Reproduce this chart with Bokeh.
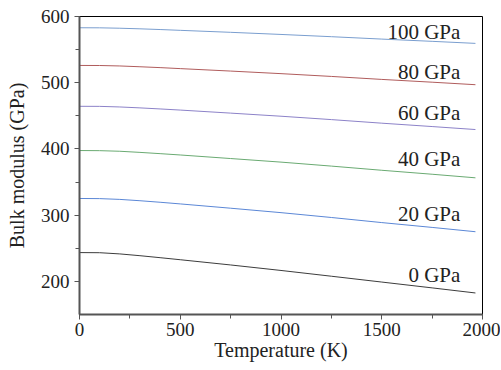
from bokeh.plotting import figure
from bokeh.models import ColumnDataSource, FixedTicker, Range1d
from bokeh.core.properties import value
from bokeh.embed import file_html
from bokeh.resources import INLINE

temperature = [0, 100, 200, 300, 400, 500, 750, 1000, 1250, 1500, 1750, 1965]
k_0gpa = [243.5, 243.3, 241.5, 238.8, 235.8, 232.7, 224.8, 216.5, 207.8, 199.0, 190.2, 182.5]
k_20gpa = [325.2, 325.0, 323.8, 321.8, 319.5, 317.0, 310.5, 303.8, 296.5, 288.8, 281.5, 275.0]
k_40gpa = [397.6, 397.4, 396.5, 394.8, 392.9, 390.9, 385.5, 380.1, 374.1, 367.8, 361.8, 356.4]
k_60gpa = [464.4, 464.3, 463.4, 462.0, 460.4, 458.7, 454.1, 449.4, 444.3, 438.9, 433.8, 429.3]
k_80gpa = [526.1, 526.0, 525.3, 524.1, 522.8, 521.3, 517.6, 513.7, 509.5, 505.0, 500.8, 497.0]
k_100gpa = [583.0, 582.9, 582.3, 581.4, 580.3, 579.1, 576.1, 572.9, 569.5, 565.9, 562.5, 559.4]

series_labels = ["0 GPa", "20 GPa", "40 GPa", "60 GPa", "80 GPa", "100 GPa"]
series_values = [k_0gpa, k_20gpa, k_40gpa, k_60gpa, k_80gpa, k_100gpa]
series_colors = ["#3c3c3c", "#5b87d6", "#6aaa72", "#8c82c8", "#b05c5c", "#7a9ecf"]

x_ticks = [0, 500, 1000, 1500, 2000]
x_minor = [250, 750, 1250, 1750]
y_ticks = [200, 300, 400, 500, 600]
y_minor = [250, 350, 450, 550]

SERIF = "Liberation Serif"
# pixel lift of each series label above its line (style, not data)
label_lift = [-16, -16, -17, -15, -12, -10]

p = figure(frame_width=403, frame_height=298, output_backend="svg", toolbar_location=None,
           x_range=Range1d(0, 2000), y_range=Range1d(150, 600),
           min_border_left=79, min_border_right=18, min_border_top=16, min_border_bottom=45)

p.xgrid.visible = False
p.ygrid.visible = False
p.outline_line_color = "black"
p.outline_line_width = 1
p.background_fill_color = "white"
p.border_fill_color = "white"

for vals, col in zip(series_values, series_colors):
    p.line(temperature, vals, line_color=col, line_width=1)

lab_src = ColumnDataSource(dict(
    x=[1890] * len(series_labels),
    y=[v[-2] + (v[-1] - v[-2]) * 0.56 for v in series_values],
    t=series_labels,
    dy=label_lift,
))
p.text(x="x", y="y", text="t", source=lab_src, text_align="right", text_baseline="middle",
       y_offset="dy", text_font=value(SERIF), text_font_size="21px", text_color="#222222")

p.xaxis.ticker = FixedTicker(ticks=x_ticks, minor_ticks=x_minor)
p.yaxis.ticker = FixedTicker(ticks=y_ticks, minor_ticks=y_minor)
p.xaxis.axis_label = "Temperature (K)"
p.yaxis.axis_label = "Bulk modulus (GPa)"

for ax in (p.xaxis[0], p.yaxis[0]):
    ax.axis_line_color = "#555555"
    ax.axis_line_width = 2
    ax.major_tick_line_color = "#555555"
    ax.minor_tick_line_color = "#555555"
    ax.major_tick_in = 0
    ax.major_tick_out = 5
    ax.minor_tick_in = 0
    ax.minor_tick_out = 4
    ax.major_label_text_font = SERIF
    ax.major_label_text_font_size = "19px"
    ax.major_label_text_color = "#222222"
    ax.axis_label_text_font = SERIF
    ax.axis_label_text_font_size = "20px"
    ax.axis_label_text_font_style = "normal"
    ax.axis_label_text_color = "#222222"

p.xaxis.major_label_standoff = 3
p.xaxis.axis_label_standoff = 0
p.yaxis.major_label_standoff = 5
p.yaxis.axis_label_standoff = 10

open("out.html", "w").write(file_html(p, INLINE))
